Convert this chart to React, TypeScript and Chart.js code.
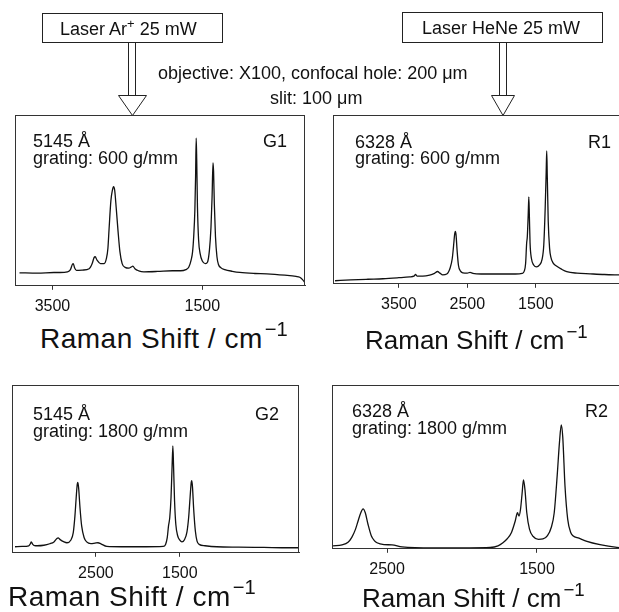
import React, { useEffect, useRef } from "react";
import { Chart, registerables } from "chart.js";

Chart.register(...registerables);

const FONT = '"Liberation Sans", Arial, Helvetica, sans-serif';

// ---------- G1 : 5145 Å, 600 g/mm ----------
const g1Shift = [3940, 3700, 3480, 3400, 3300, 3260, 3235, 3222, 3205, 3180, 3100, 3010, 2970, 2945, 2930, 2905, 2860, 2810, 2780, 2760, 2745, 2720, 2700, 2685, 2670, 2650, 2625, 2600, 2570, 2530, 2480, 2450, 2427, 2400, 2350, 2280, 2100, 1900, 1790, 1720, 1680, 1650, 1630, 1615, 1600, 1590, 1582, 1575, 1565, 1550, 1530, 1500, 1460, 1430, 1405, 1385, 1370, 1358, 1350, 1340, 1325, 1305, 1285, 1250, 1200, 1100, 1000, 800, 640, 400, 250, 200, 160, 135];
const g1Intensity = [7.6, 7.4, 7.8, 7.8, 8.2, 9.5, 12.5, 13, 10.5, 9, 9.2, 10, 13, 16.5, 17, 15, 13, 13, 16, 22, 33, 50, 56, 58, 56, 46, 32, 20, 13, 10.8, 10.3, 11, 11.5, 10, 8.8, 8.2, 8.4, 8.8, 8.8, 9.5, 11, 15, 20, 29, 44, 64, 86.5, 74, 46, 27, 19, 14.5, 13, 14, 21, 34, 52, 72, 67, 48, 29, 17, 12.5, 10.5, 9.5, 8.5, 7.8, 7.2, 7, 6.2, 5.5, 5.0, 3.5, 2.0];
const g1Ticks = [3500, 1500];

// ---------- R1 : 6328 Å, 600 g/mm ----------
const r1Shift = [4430, 4200, 3950, 3730, 3500, 3340, 3280, 3255, 3235, 3150, 3050, 2980, 2935, 2900, 2860, 2800, 2750, 2720, 2700, 2685, 2675, 2665, 2650, 2630, 2600, 2565, 2500, 2460, 2420, 2300, 2000, 1800, 1700, 1670, 1650, 1635, 1625, 1612, 1603, 1595, 1585, 1565, 1530, 1490, 1450, 1410, 1385, 1365, 1350, 1342, 1334, 1320, 1300, 1280, 1250, 1200, 1120, 1050, 900, 710, 500, 320, 200];
const r1Intensity = [1.8, 2.3, 2.7, 3, 3.6, 4.1, 4.5, 5.5, 4.6, 4.6, 5.2, 6.2, 7.3, 6.3, 5.3, 5.8, 9.5, 15, 23, 29.5, 31, 29, 20, 11, 7.5, 6.5, 6.3, 6.8, 6.2, 5.8, 5.8, 5.8, 6.2, 7.5, 12, 24, 28, 41, 51.5, 40, 24, 15, 11, 10, 11, 14.5, 23, 44, 66, 78.7, 64, 37, 21, 15.5, 12.4, 10.5, 8.5, 7.2, 6.3, 5.9, 5.5, 5.3, 5.2];
const r1Ticks = [3500, 2500, 1500];

// ---------- G2 : 5145 Å, 1800 g/mm ----------
const g2Shift = [3464, 3380, 3300, 3280, 3270, 3255, 3230, 3200, 3120, 3050, 3000, 2965, 2950, 2930, 2880, 2845, 2800, 2770, 2750, 2735, 2722, 2715, 2705, 2690, 2670, 2640, 2610, 2560, 2510, 2475, 2440, 2370, 2200, 1900, 1700, 1670, 1650, 1635, 1620, 1605, 1592, 1583, 1575, 1563, 1548, 1525, 1500, 1475, 1445, 1415, 1395, 1378, 1364, 1357, 1349, 1335, 1315, 1295, 1270, 1200, 1060, 800, 500, 200, 90];
const g2Intensity = [3.6, 3.8, 4.2, 5.5, 6.5, 5.2, 4.3, 4.2, 4.5, 5.4, 6.5, 8.5, 8.9, 8, 6.5, 6, 7.5, 12, 22, 33, 41, 42, 38, 27, 16, 9, 6.5, 5.5, 5.8, 6, 5.3, 3.8, 3.6, 3.6, 3.8, 5, 9, 16, 21, 33, 52, 63.7, 52, 31, 17, 10, 7.5, 6.5, 7.8, 12.5, 21, 33, 42, 43, 39, 26, 13, 7, 5, 4.2, 3.6, 3.4, 3.2, 3.0, 3.0];
const g2Ticks = [2500, 1500];

// ---------- R2 : 6328 Å, 1800 g/mm ----------
const r2Shift = [2860, 2800, 2760, 2735, 2710, 2693, 2675, 2660, 2645, 2627, 2605, 2585, 2567, 2520, 2467, 2400, 2193, 1950, 1813, 1760, 1727, 1700, 1670, 1645, 1630, 1620, 1610, 1600, 1590, 1580, 1568, 1550, 1525, 1490, 1460, 1430, 1405, 1385, 1365, 1350, 1338, 1328, 1313, 1295, 1275, 1260, 1220, 1167, 1080, 967, 915];
const r2Intensity = [1.8, 2.4, 4, 7, 12, 17, 22, 24.4, 22, 15, 8, 5, 3.7, 2.6, 2.4, 1.2, 0.6, 0.6, 0.8, 1.8, 3.7, 6, 10, 17, 22, 20, 24, 33, 42, 36, 22, 12, 7.5, 5.8, 6, 8, 13, 22, 45, 65, 75.6, 68, 38, 18, 10, 8, 6.5, 4.5, 2.5, 0.9, 0.6];
const r2Ticks = [2500, 1500];

const PAD = 2;
const TICK_LEN = 4;
const TICK_PAD = 7;
const TICK_SIZE = 16;
const AXIS_H = TICK_LEN + TICK_SIZE * 1.2 + 2 * TICK_PAD;

const framePlugin = {
  id: "frame",
  afterDraw(chart: any) {
    const { ctx, chartArea } = chart;
    ctx.save();
    ctx.strokeStyle = "#333";
    ctx.lineWidth = 1;
    ctx.strokeRect(
      Math.round(chartArea.left) + 0.5,
      Math.round(chartArea.top) + 0.5,
      Math.round(chartArea.right - chartArea.left) - 1,
      Math.round(chartArea.bottom - chartArea.top) - 1
    );
    ctx.restore();
  },
};

type PanelProps = {
  left: number;
  top: number;
  width: number;
  height: number;
  xLeft: number;
  xRight: number;
  ticks: number[];
  shift: number[];
  intensity: number[];
};

function Panel(p: PanelProps) {
  const ref = useRef<HTMLCanvasElement>(null);
  const cw = p.width + 2 * PAD;
  const ch = Math.round(p.height + PAD + AXIS_H);
  useEffect(() => {
    const pts = p.shift.map((x, i) => ({ x, y: p.intensity[i] }));
    const chart = new Chart(ref.current as HTMLCanvasElement, {
      type: "line",
      data: {
        datasets: [
          {
            data: pts,
            borderColor: "#111",
            borderWidth: 1.3,
            pointRadius: 0,
            fill: false,
            cubicInterpolationMode: "monotone",
          },
        ],
      },
      options: {
        responsive: false,
        animation: false,
        devicePixelRatio: 1,
        layout: { padding: { left: PAD, right: PAD, top: PAD, bottom: 0 } },
        plugins: { legend: { display: false }, tooltip: { enabled: false }, title: { display: false } },
        scales: {
          x: {
            type: "linear",
            reverse: true,
            min: p.xRight,
            max: p.xLeft,
            afterBuildTicks: (axis: any) => {
              axis.ticks = p.ticks.map((v) => ({ value: v }));
            },
            ticks: {
              font: { family: FONT, size: TICK_SIZE },
              color: "#111",
              padding: TICK_PAD,
              maxRotation: 0,
              autoSkip: false,
              callback: (v: any) => String(v),
            },
            grid: { display: true, drawOnChartArea: false, drawTicks: true, tickLength: TICK_LEN, color: "#333" },
            border: { display: true, color: "#333" },
          },
          y: { display: false, min: 0, max: 100 },
        },
      } as any,
      plugins: [framePlugin],
    });
    return () => chart.destroy();
  }, []);
  return (
    <canvas
      ref={ref}
      width={cw}
      height={ch}
      style={{ position: "absolute", left: p.left - PAD, top: p.top - PAD, width: cw, height: ch }}
    />
  );
}

function Txt(props: { x: number; base: number; size: number; children: any; style?: any }) {
  return (
    <div
      style={{
        position: "absolute",
        left: props.x,
        top: props.base - 0.8465 * props.size,
        fontSize: props.size,
        lineHeight: 1,
        fontFamily: FONT,
        color: "#111",
        whiteSpace: "nowrap",
        ...(props.style || {}),
      }}
    >
      {props.children}
    </div>
  );
}

function AxisTitle(props: { x: number; base: number; size: number; spacing: number }) {
  return (
    <Txt x={props.x} base={props.base} size={props.size} style={{ letterSpacing: props.spacing }}>
      Raman Shift / cm
      <span style={{ fontSize: "0.72em", position: "relative", top: "-0.6em", marginLeft: 2, letterSpacing: 0 }}>−1</span>
    </Txt>
  );
}

export default function App() {
  return (
    <div
      style={{
        position: "fixed",
        left: 0,
        top: 0,
        width: 619,
        height: 612,
        overflow: "hidden",
        background: "#fff",
      }}
    >
      <Panel left={15} top={115} width={290} height={171} xLeft={4000} xRight={130} ticks={g1Ticks} shift={g1Shift} intensity={g1Intensity} />
      <Panel left={333} top={115} width={292} height={169} xLeft={4460} xRight={200} ticks={r1Ticks} shift={r1Shift} intensity={r1Intensity} />
      <Panel left={12} top={385} width={287} height={168} xLeft={3500} xRight={80} ticks={g2Ticks} shift={g2Shift} intensity={g2Intensity} />
      <Panel left={332} top={385} width={293} height={164} xLeft={2867} xRight={913} ticks={r2Ticks} shift={r2Shift} intensity={r2Intensity} />

      <svg width={619} height={120} style={{ position: "absolute", left: 0, top: 0 }}>
        <rect x={42.5} y={13.5} width={180} height={29} fill="#fff" stroke="#222" strokeWidth={1} />
        <rect x={402.5} y={12.5} width={200} height={30} fill="#fff" stroke="#222" strokeWidth={1} />
        <line x1={128.5} y1={43} x2={128.5} y2={95} stroke="#222" strokeWidth={1} />
        <line x1={135.5} y1={43} x2={135.5} y2={95} stroke="#222" strokeWidth={1} />
        <polygon points="118.5,95.5 146.5,95.5 132.5,115.5" fill="#fff" stroke="#222" strokeWidth={1} />
        <line x1={499.5} y1={43} x2={499.5} y2={95} stroke="#222" strokeWidth={1} />
        <line x1={506.5} y1={43} x2={506.5} y2={95} stroke="#222" strokeWidth={1} />
        <polygon points="491.5,95.5 514.5,95.5 503,115.5" fill="#fff" stroke="#222" strokeWidth={1} />
      </svg>

      <Txt x={60} base={35} size={18}>
        Laser Ar
        <span style={{ fontSize: "0.72em", position: "relative", top: "-0.5em" }}>+</span> 25 mW
      </Txt>
      <Txt x={422} base={34} size={18}>Laser HeNe 25 mW</Txt>
      <Txt x={158} base={79} size={18}>objective: X100, confocal hole: 200 μm</Txt>
      <Txt x={270} base={104} size={18}>slit: 100 μm</Txt>

      <Txt x={33} base={147} size={18}>5145 Å</Txt>
      <Txt x={33} base={164} size={18}>grating: 600 g/mm</Txt>
      <Txt x={263} base={147} size={18}>G1</Txt>

      <Txt x={355} base={148} size={18}>6328 Å</Txt>
      <Txt x={355} base={164} size={18}>grating: 600 g/mm</Txt>
      <Txt x={588} base={148} size={18}>R1</Txt>

      <Txt x={33} base={420} size={18}>5145 Å</Txt>
      <Txt x={33} base={437} size={18}>grating: 1800 g/mm</Txt>
      <Txt x={255} base={420} size={18}>G2</Txt>

      <Txt x={352} base={417} size={18}>6328 Å</Txt>
      <Txt x={352} base={434} size={18}>grating: 1800 g/mm</Txt>
      <Txt x={585} base={417} size={18}>R2</Txt>

      <AxisTitle x={40} base={349} size={28} spacing={0.5} />
      <AxisTitle x={365} base={349} size={26} spacing={0} />
      <AxisTitle x={8} base={607} size={28} spacing={0.5} />
      <AxisTitle x={362} base={607} size={26} spacing={0} />
    </div>
  );
}
